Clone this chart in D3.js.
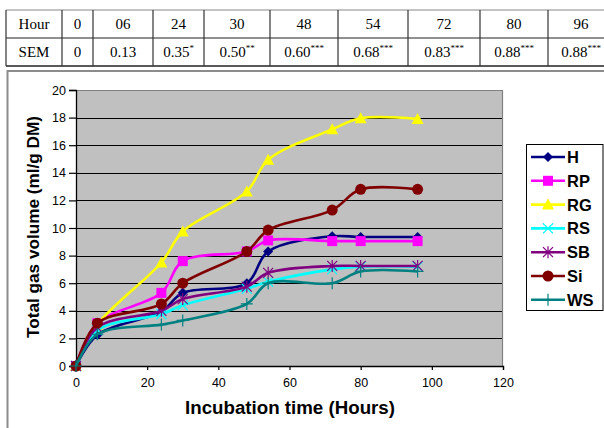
<!DOCTYPE html>
<html><head><meta charset="utf-8">
<script src="https://cdn.jsdelivr.net/npm/d3@7"></script>
<style>
html,body{margin:0;padding:0;background:#fff;}
svg{display:block;}
</style></head>
<body>
<svg id="c" width="604" height="428"></svg>
<script>
// ---- data ----
const tableHours = ["0","06","24","30","48","54","72","80","96"];
const tableSEM = ["0","0.13","0.35","0.50","0.60","0.68","0.83","0.88","0.88"];
const tableStars = ["","","*","**","***","***","***","***","***"];

const hours = [0, 6, 24, 30, 48, 54, 72, 80, 96];
const seriesNames = ["H","RP","RG","RS","SB","Si","WS"];
const H  = [0, 2.25, 3.95, 5.3, 6.0, 8.3, 9.4, 9.35, 9.35];
const RP = [0, 3.1, 5.3, 7.6, 8.3, 9.1, 9.05, 9.05, 9.05];
const RG = [0, 3.0, 7.5, 9.75, 12.65, 14.95, 17.15, 17.95, 17.9];
const RS = [0, 2.6, 3.75, 4.4, 5.6, 6.1, 7.0, 7.2, 7.2];
const SB = [0, 2.8, 4.0, 4.85, 5.75, 6.75, 7.25, 7.25, 7.25];
const Si = [0, 3.1, 4.5, 6.0, 8.3, 9.85, 11.3, 12.8, 12.8];
const WS = [0, 2.3, 3.0, 3.3, 4.5, 6.0, 6.0, 6.85, 6.85];
const seriesValues = [H, RP, RG, RS, SB, Si, WS];
const seriesColors = ["#000080","#ff00ff","#ffff00","#00ffff","#800080","#800000","#008080"];
const seriesMarkers = ["diamond","square","triangle","x","asterisk","circle","plus"];

const yTicks = [0,2,4,6,8,10,12,14,16,18,20];
const xTicks = [0,20,40,60,80,100,120];

// ---- layout ----
const svg = d3.select("#c");
const plot = {left:76, top:90, right:503, bottom:366};

// table
const colEdges = [6, 62, 93, 153, 204, 270, 338, 408, 480, 548, 614];
const rowEdges = [10, 38, 66];
const tbl = svg.append("g");
const rowLabels = ["Hour","SEM"];
for (let r = 0; r < 2; r++) {
  for (let c = 0; c < 10; c++) {
    const x0 = colEdges[c], x1 = colEdges[c+1];
    const cy = (rowEdges[r] + rowEdges[r+1]) / 2;
    const t = tbl.append("text")
      .attr("x", (x0 + x1) / 2).attr("y", cy + 5)
      .attr("text-anchor", "middle")
      .attr("font-family", "Liberation Serif, Times New Roman, serif")
      .attr("font-size", 15).attr("fill", "#000");
    if (c === 0) t.text(rowLabels[r]);
    else if (r === 0) t.text(tableHours[c-1]);
    else {
      t.append("tspan").text(tableSEM[c-1]);
      if (tableStars[c-1]) t.append("tspan").attr("font-size", 9).attr("dy", -6).text(tableStars[c-1]);
    }
  }
}
rowEdges.forEach((y, i) => {
  tbl.append("line").attr("x1", colEdges[0]).attr("x2", 604).attr("y1", y).attr("y2", y)
    .attr("stroke", i === 0 ? "#888" : "#222").attr("stroke-width", i === 2 ? 1.6 : 1.2);
});
colEdges.forEach((x) => {
  tbl.append("line").attr("x1", x).attr("x2", x).attr("y1", rowEdges[0]).attr("y2", rowEdges[2])
    .attr("stroke", "#333").attr("stroke-width", 1.2);
});

// chart frame
svg.append("path").attr("d", `M7.5,430 L7.5,71 L606,71`).attr("fill","none")
  .attr("stroke","#8c8c8c").attr("stroke-width",2);

// scales
const x = d3.scaleLinear().domain([0,120]).range([plot.left, plot.right]);
const y = d3.scaleLinear().domain([0,20]).range([plot.bottom, plot.top]);

// plot area
svg.append("rect").attr("x", plot.left).attr("y", plot.top)
  .attr("width", plot.right - plot.left).attr("height", plot.bottom - plot.top)
  .attr("fill", "#c0c0c0");
// gridlines
svg.append("g").selectAll("line").data(yTicks.filter(v => v > 0 && v < 20)).join("line")
  .attr("x1", plot.left).attr("x2", plot.right)
  .attr("y1", d => Math.round(y(d)) + 0.5).attr("y2", d => Math.round(y(d)) + 0.5)
  .attr("stroke", "#000").attr("stroke-width", 1.2);
// top/right border
svg.append("path").attr("d", `M${plot.left},${plot.top+0.5} L${plot.right-0.5},${plot.top+0.5} L${plot.right-0.5},${plot.bottom}`)
  .attr("fill","none").attr("stroke","#808080").attr("stroke-width",1.2);

// axes
const yAxis = d3.axisLeft(y).tickValues(yTicks).tickSize(7).tickPadding(3);
const xAxis = d3.axisBottom(x).tickValues(xTicks).tickSize(4).tickPadding(8);
const gy = svg.append("g").attr("transform", `translate(${plot.left},0)`).call(yAxis);
const gx = svg.append("g").attr("transform", `translate(0,${plot.bottom})`).call(xAxis);
[gx, gy].forEach(g => {
  g.select(".domain").attr("stroke", "#000").attr("stroke-width", 1.3);
  g.selectAll(".tick line").attr("stroke", "#000").attr("stroke-width", 1.2);
  g.selectAll("text").attr("font-family", "Liberation Sans, Arial, sans-serif")
    .attr("font-size", 12.5).attr("fill", "#000");
});

// axis titles
svg.append("text").attr("transform", `translate(39,227) rotate(-90)`)
  .attr("text-anchor","middle").attr("font-family","Liberation Sans, Arial, sans-serif")
  .attr("font-weight","bold").attr("font-size",16).attr("fill","#000")
  .attr("textLength", 222).attr("lengthAdjust", "spacingAndGlyphs")
  .text("Total gas volume (ml/g DM)");
svg.append("text").attr("x", 290).attr("y", 414)
  .attr("text-anchor","middle").attr("font-family","Liberation Sans, Arial, sans-serif")
  .attr("font-weight","bold").attr("font-size",17.5).attr("fill","#000")
  .attr("textLength", 210).attr("lengthAdjust", "spacingAndGlyphs")
  .text("Incubation time (Hours)");

// markers
function drawMarker(g, type, cx, cy, color) {
  switch (type) {
    case "diamond":
      g.append("path").attr("d", `M${cx},${cy-5} L${cx+5},${cy} L${cx},${cy+5} L${cx-5},${cy} Z`).attr("fill", color);
      break;
    case "square":
      g.append("rect").attr("x", cx-5).attr("y", cy-5).attr("width", 10).attr("height", 10).attr("fill", color);
      break;
    case "triangle":
      g.append("path").attr("d", `M${cx},${cy-6} L${cx+6},${cy+5} L${cx-6},${cy+5} Z`).attr("fill", color);
      break;
    case "circle":
      g.append("circle").attr("cx", cx).attr("cy", cy).attr("r", 5.5).attr("fill", color);
      break;
    case "x":
      g.append("path").attr("d", `M${cx-5},${cy-5} L${cx+5},${cy+5} M${cx-5},${cy+5} L${cx+5},${cy-5}`)
        .attr("stroke", color).attr("stroke-width", 1.2).attr("fill","none");
      break;
    case "asterisk":
      g.append("path").attr("d", `M${cx-5},${cy-5} L${cx+5},${cy+5} M${cx-5},${cy+5} L${cx+5},${cy-5} M${cx},${cy-6} L${cx},${cy+6}`)
        .attr("stroke", color).attr("stroke-width", 1.2).attr("fill","none");
      break;
    case "plus":
      g.append("path").attr("d", `M${cx-6},${cy} L${cx+6},${cy} M${cx},${cy-6} L${cx},${cy+6}`)
        .attr("stroke", color).attr("stroke-width", 1.2).attr("fill","none");
      break;
  }
}

// series
const line = d3.line().x((d,i) => x(hours[i])).y(d => y(d)).curve(d3.curveCatmullRom.alpha(0.5));
const sg = svg.append("g");
seriesValues.forEach((vals, si) => {
  const g = sg.append("g");
  g.append("path").attr("d", line(vals)).attr("fill","none")
    .attr("stroke", seriesColors[si]).attr("stroke-width", 2.6);
  vals.forEach((v, i) => drawMarker(g, seriesMarkers[si], x(hours[i]), y(v), seriesColors[si]));
});

// legend
const lg = svg.append("g");
lg.append("rect").attr("x", 526.5).attr("y", 144.5).attr("width", 76.5).attr("height", 166)
  .attr("fill", "#fff").attr("stroke", "#000").attr("stroke-width", 1);
seriesNames.forEach((name, i) => {
  const ly = 157 + i * 23.8;
  lg.append("line").attr("x1", 531).attr("x2", 565).attr("y1", ly).attr("y2", ly)
    .attr("stroke", seriesColors[i]).attr("stroke-width", 2.6);
  drawMarker(lg, seriesMarkers[i], 548, ly, seriesColors[i]);
  lg.append("text").attr("x", 567).attr("y", ly + 6)
    .attr("font-family","Liberation Sans, Arial, sans-serif").attr("font-weight","bold")
    .attr("font-size", 16.5).attr("fill","#000").text(name);
});
</script>
</body></html>
